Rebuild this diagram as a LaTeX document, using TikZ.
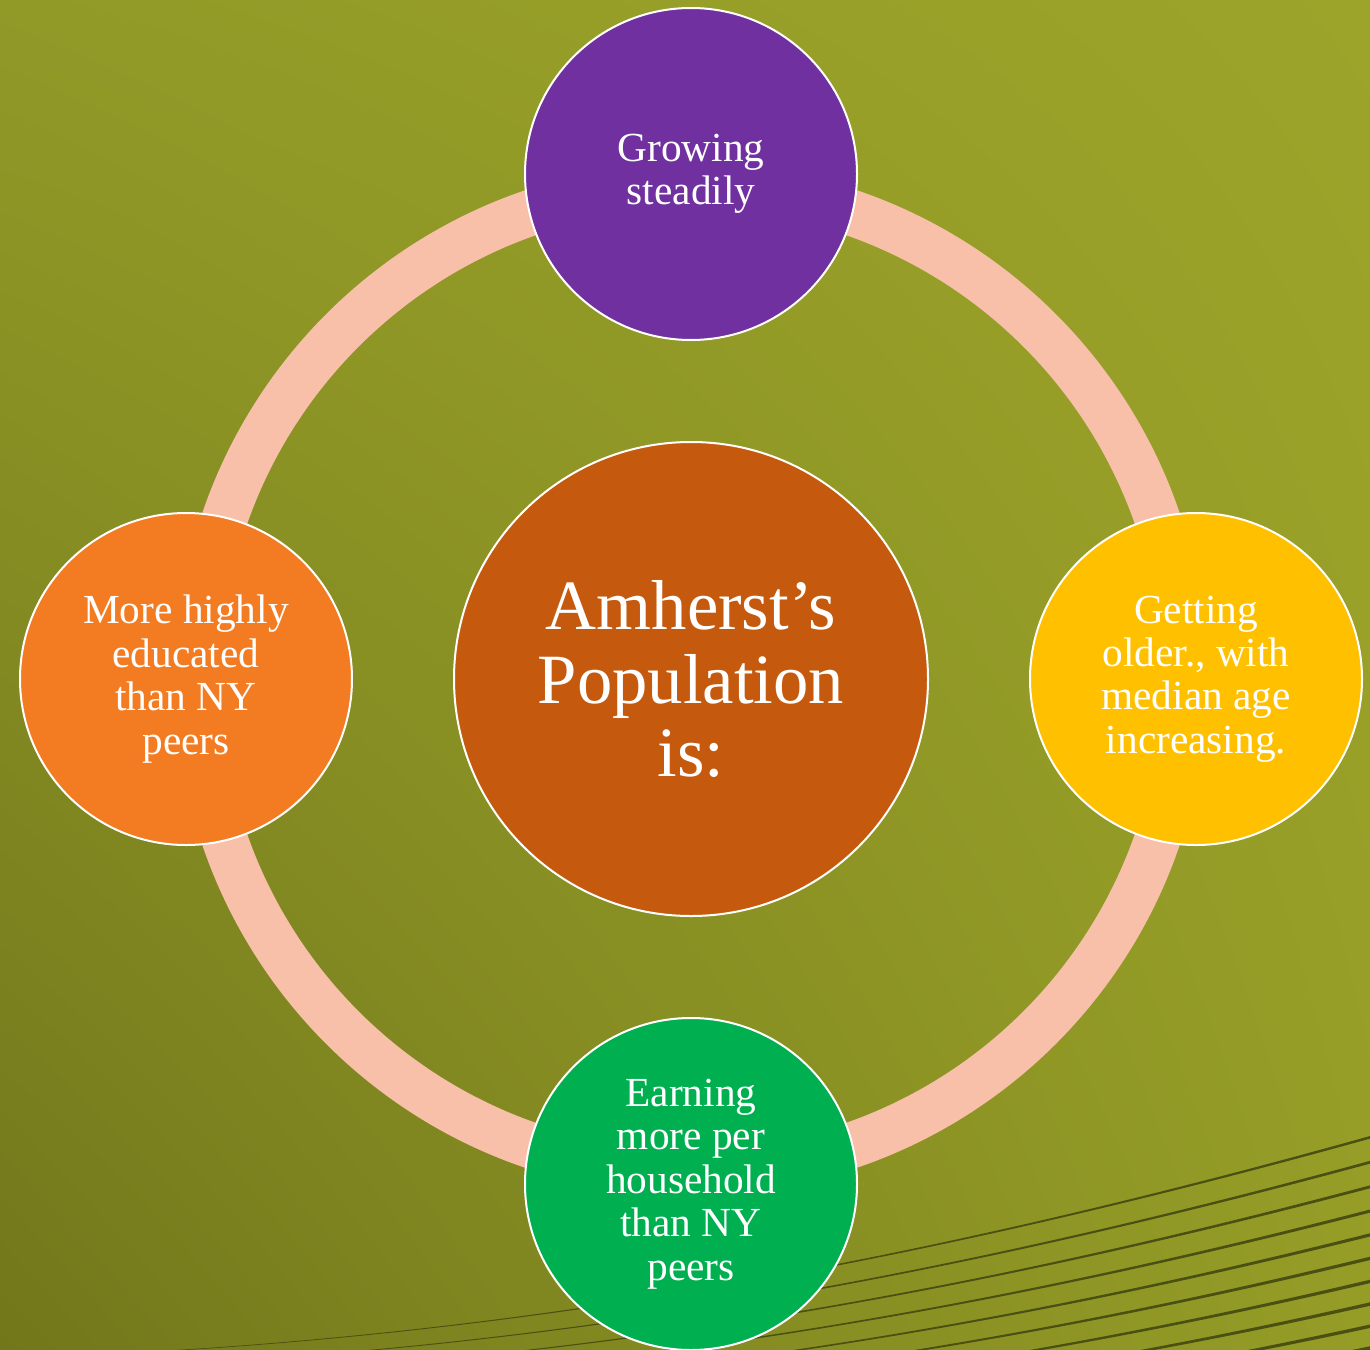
\documentclass[tikz,border=0pt]{standalone}
\usepackage{fontspec}
\setmainfont{Liberation Serif}
\usetikzlibrary{shadings}
\definecolor{bgTL}{HTML}{919A27}
\definecolor{bgTR}{HTML}{9DA42A}
\definecolor{bgBL}{HTML}{72771B}
\definecolor{bgBR}{HTML}{959D27}
\definecolor{swoosh}{HTML}{4A4F12}
\definecolor{ringc}{HTML}{F8BFA9}
\definecolor{hubc}{HTML}{C55A0E}
\definecolor{purp}{HTML}{7030A0}
\definecolor{yell}{HTML}{FFC000}
\definecolor{gren}{HTML}{00B050}
\definecolor{orng}{HTML}{F37B21}
\begin{document}
\begin{tikzpicture}[x=0.75pt,y=-0.75pt,
  bubble/.style={circle, draw=white, line width=1.5pt, minimum size=249pt,
    inner sep=0pt, text=white, align=center,
    font=\fontsize{31}{32.6}\selectfont},
  hubnode/.style={circle, draw=white, line width=1.5pt, minimum size=355.5pt,
    inner sep=0pt, text=white, align=center, fill=hubc,
    font=\fontsize{53}{55}\selectfont},
  ringline/.style={draw=ringc, line width=34.5pt}]
\useasboundingbox (0,0) rectangle (1370,1349);
\shade[upper left=bgTL, upper right=bgTR, lower left=bgBL, lower right=bgBR]
  (0,0) rectangle (1370,1349);
\begin{scope}
  \clip (0,0) rectangle (1370,1349);
  \foreach \k in {0,...,9} {
    \pgfmathsetmacro{\wa}{1.6+0.25*\k}
    \pgfmathsetmacro{\wb}{2.6+0.3*\k}
    \fill[swoosh, shift={(50*\k,11*\k)}]
      (60,1356) .. controls (510,1338) and (920,1262) .. (1370,1136)
      -- (1370,1136+\wb) .. controls (920,1262+\wa) and (510,1338+0.9) .. (60,1356.5) -- cycle;
  }
\end{scope}
\coordinate (c) at (691,679);
\draw[ringline] (c) circle[radius=493];
\node[hubnode] (hub) at (c) {Amherst’s\\Population\\is:};
\node[bubble, fill=purp] (top) at (691,174) {Growing\\steadily};
\node[bubble, fill=yell] (right) at (1196,679) {Getting\\older., with\\median age\\increasing.};
\node[bubble, fill=gren] (bottom) at (691,1184) {Earning\\more per\\household\\than NY\\peers};
\node[bubble, fill=orng] (left) at (186,679) {More highly\\educated\\than NY\\peers};
\end{tikzpicture}
\end{document}
